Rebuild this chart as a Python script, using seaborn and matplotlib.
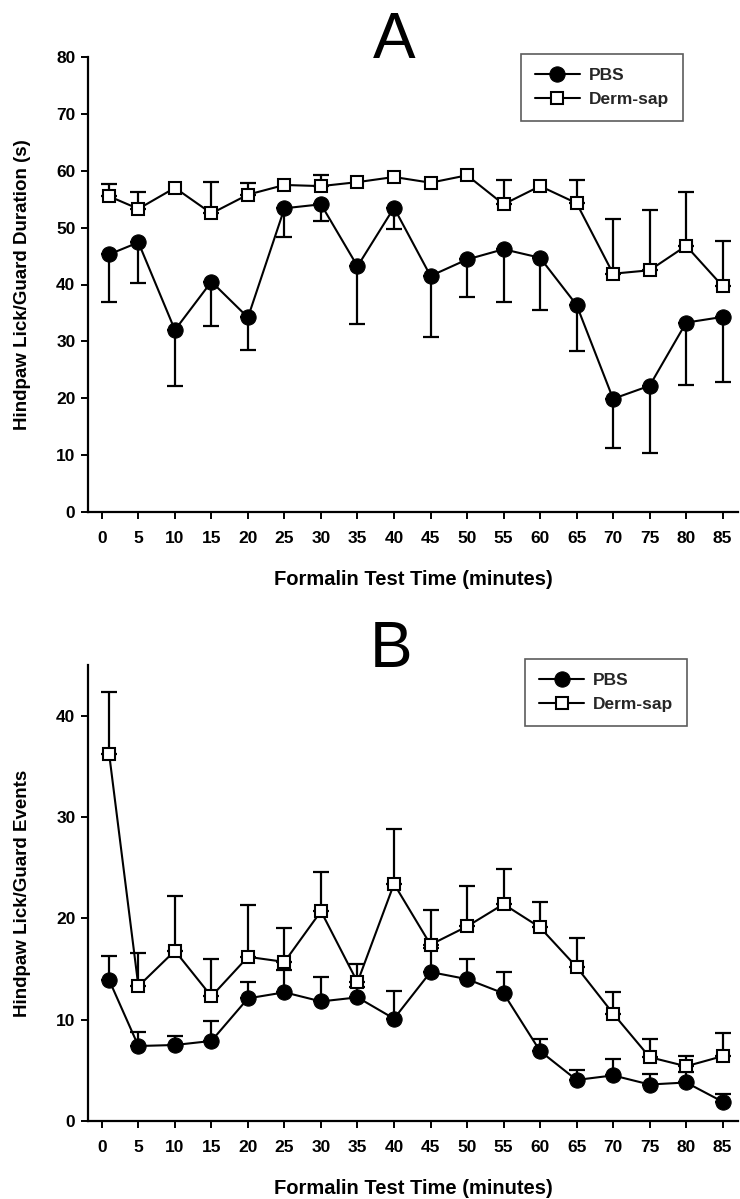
import numpy as np
import matplotlib
matplotlib.use('Agg')
import matplotlib.pyplot as plt
import seaborn as sns

# time points (minutes); first bin plotted at 1 min
times = [1, 5, 10, 15, 20, 25, 30, 35, 40, 45, 50, 55, 60, 65, 70, 75, 80, 85]
xticks = list(range(0, 90, 5))

# panel A: duration (s)
pbs_a = [45.3, 47.4, 32.0, 40.5, 34.2, 53.4, 54.1, 43.2, 53.5, 41.5, 44.4, 46.2, 44.7, 36.4, 19.9, 22.2, 33.3, 34.3]
pbs_a_err = [8.3, 7.2, 9.8, 7.8, 5.7, 5.0, 3.0, 10.2, 3.8, 10.7, 6.6, 9.3, 9.1, 8.1, 8.6, 11.8, 11.0, 11.5]
derm_a = [55.5, 53.3, 57.0, 52.5, 55.8, 57.5, 57.3, 58.0, 58.9, 57.9, 59.2, 54.1, 57.3, 54.3, 41.9, 42.5, 46.8, 39.7]
derm_a_err = [2.1, 3.0, 0, 5.5, 2.1, 0, 2.0, 0, 0, 0, 0, 4.2, 0, 4.0, 9.6, 10.6, 9.4, 7.9]

# panel B: events
pbs_b = [13.9, 7.4, 7.5, 7.9, 12.1, 12.7, 11.8, 12.2, 10.1, 14.7, 14.0, 12.6, 6.9, 4.05, 4.5, 3.6, 3.8, 1.9]
pbs_b_err = [2.4, 1.4, 0.9, 2.0, 1.6, 2.2, 2.4, 1.0, 2.7, 2.4, 2.0, 2.1, 1.2, 1.0, 1.6, 1.0, 1.0, 0.8]
derm_b = [36.2, 13.3, 16.8, 12.3, 16.2, 15.7, 20.7, 13.7, 23.4, 17.4, 19.2, 21.4, 19.1, 15.2, 10.6, 6.3, 5.4, 6.4]
derm_b_err = [6.1, 3.3, 5.4, 3.7, 5.1, 3.3, 3.9, 1.8, 5.4, 3.4, 4.0, 3.5, 2.5, 2.9, 2.1, 1.8, 1.0, 2.3]

sns.set_theme(style='ticks')
plt.rcParams['font.family'] = ['Liberation Sans', 'DejaVu Sans']

fig = plt.figure(figsize=(7.4, 11.99), dpi=100)
ax_a = fig.add_axes([88 / 740, 1 - 512 / 1199, 650 / 740, 455 / 1199])
ax_b = fig.add_axes([88 / 740, 1 - 1121 / 1199, 650 / 740, 456 / 1199])


def draw_errs(ax, x, y, err, down=False):
    # one-sided SEM bars; zero entries are hidden behind the marker in the original
    x = np.asarray(x, float)
    y = np.asarray(y, float)
    err = np.asarray(err, float)
    m = err > 0
    z = np.zeros(m.sum())
    yerr = [err[m], z] if down else [z, err[m]]
    ax.errorbar(x[m], y[m], yerr=yerr, fmt='none', ecolor='black',
                elinewidth=1.6, capsize=5.5, capthick=1.6, zorder=2)


def panel(ax, pbs, pbs_err, derm, derm_err, pbs_down, ymax, ylabel, legend_anchor):
    draw_errs(ax, times, pbs, pbs_err, down=pbs_down)
    draw_errs(ax, times, derm, derm_err)
    sns.lineplot(x=times, y=pbs, ax=ax, color='black', linewidth=1.5,
                 marker='o', markersize=11, markerfacecolor='black',
                 markeredgecolor='black', label='PBS', zorder=3)
    sns.lineplot(x=times, y=derm, ax=ax, color='black', linewidth=1.5,
                 marker='s', markersize=8.5, markerfacecolor='white',
                 markeredgecolor='black', markeredgewidth=1.5,
                 label='Derm-sap', zorder=4)
    ax.set_xlim(-1.9, 87.1)
    ax.set_ylim(0, ymax)
    ax.set_xticks(xticks)
    ax.set_yticks(list(range(0, min(ymax, 80) + 1, 10)))
    sns.despine(ax=ax)
    for s in ['left', 'bottom']:
        ax.spines[s].set_linewidth(1.6)
        ax.spines[s].set_color('black')
    ax.tick_params(axis='both', length=5, width=1.4, color='black', direction='out',
                   labelsize=12.5, labelcolor='black')
    ax.tick_params(axis='x', pad=9)
    ax.tick_params(axis='y', pad=4)
    for lab in ax.get_xticklabels() + ax.get_yticklabels():
        lab.set_fontweight('bold')
    ax.set_xlabel('Formalin Test Time (minutes)', fontsize=14.5,
                  fontweight='bold', labelpad=17, color='black')
    ax.set_ylabel(ylabel, fontsize=13.5, fontweight='bold', labelpad=18, color='black')
    leg = ax.legend(loc='upper right', bbox_to_anchor=legend_anchor,
                    frameon=True, fancybox=False, fontsize=12.5,
                    handlelength=2.6, borderpad=0.8, labelspacing=0.5,
                    handletextpad=0.5, borderaxespad=0)
    leg.get_frame().set_edgecolor('#333333')
    leg.get_frame().set_linewidth(1.2)
    for t in leg.get_texts():
        t.set_fontweight('bold')


panel(ax_a, pbs_a, pbs_a_err, derm_a, derm_a_err, True, 80,
      'Hindpaw Lick/Guard Duration (s)', (0.915, 1.007))
panel(ax_b, pbs_b, pbs_b_err, derm_b, derm_b_err, False, 45,
      'Hindpaw Lick/Guard Events', (0.922, 1.013))
ax_b.set_yticks([0, 10, 20, 30, 40])
for lab in ax_b.get_yticklabels():
    lab.set_fontweight('bold')

fig.text(394 / 740, 1 - 58 / 1199, 'A', ha='center', va='baseline',
         fontsize=46, color='black')
fig.text(391 / 740, 1 - 667 / 1199, 'B', ha='center', va='baseline',
         fontsize=46, color='black')

fig.savefig('out.png', dpi=100)
